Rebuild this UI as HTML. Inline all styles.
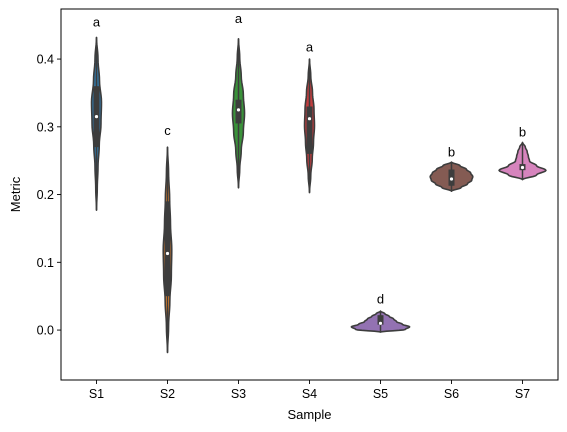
<!DOCTYPE html>
<html><head><meta charset="utf-8"><style>
html,body{margin:0;padding:0;background:#fff;}
svg{display:block;font-family:"Liberation Sans","DejaVu Sans",sans-serif;}
</style></head><body>
<svg id="chart" width="567" height="432" viewBox="0 0 567 432"></svg>
<script>
const categories=["S1","S2","S3","S4","S5","S6","S7"];
const colors=["#3274a1","#e1812c","#3a923a","#c03d3e","#9372b2","#845b53","#d684bd"];
const mins=[0.177,-0.033,0.21,0.203,-0.003,0.205,0.222];
const maxs=[0.432,0.27,0.43,0.40,0.028,0.248,0.277];
const q1s=[0.27,0.05,0.305,0.26,0.008,0.213,0.236];
const medians=[0.315,0.113,0.325,0.312,0.01,0.223,0.24];
const q3s=[0.36,0.19,0.34,0.33,0.022,0.237,0.245];
const maxHalf=[0.07,0.06,0.085,0.07,0.41,0.30,0.33];
const profiles=[
 [0,0.15,0.3,0.55,0.9,1,0.6,0.3,0],
 [0,0.25,0.55,0.9,1,0.7,0.5,0.25,0],
 [0,0.2,0.45,0.8,1,0.8,0.45,0.2,0],
 [0,0.25,0.55,0.8,1,0.9,0.6,0.25,0],
 [0,0.85,1,0.75,0.55,0.45,0.3,0.15,0],
 [0,0.45,0.75,0.95,1,0.9,0.7,0.4,0],
 [0,0.6,1,0.6,0.3,0.25,0.2,0.12,0]
];
const letters=["a","c","a","a","d","b","b"];
const letterVals=[0.448,0.288,0.453,0.411,0.039,0.256,0.286];
const yTicks=[0.0,0.1,0.2,0.3,0.4];
const yTickLabels=["0.0","0.1","0.2","0.3","0.4"];

const L=61,R=558,T=9,B=380;
const yMin=-0.0737,yMax=0.4739;
const y=v=>B-(v-yMin)/(yMax-yMin)*(B-T);
const bandW=(R-L)/categories.length;
const x=i=>L+bandW*(i+0.5);
const NS="http://www.w3.org/2000/svg";
const svg=document.getElementById('chart');
function mk(tag,attrs,parent){const e=document.createElementNS(NS,tag);for(const k in attrs)e.setAttribute(k,attrs[k]);(parent||svg).appendChild(e);return e;}

mk('rect',{x:0,y:0,width:567,height:432,fill:'#fff'});

yTicks.forEach((v,i)=>{
 const t=mk('line',{x1:L-4,x2:L,y1:y(v),y2:y(v),stroke:'#000','stroke-width':0.9});
 
 
 const tx=mk('text',{x:L-7,y:y(v)+4.5,'text-anchor':'end','font-size':12.5,fill:'#000'});
 tx.textContent=yTickLabels[i];
 
 
});
categories.forEach((c,i)=>{
 const t=mk('line',{x1:x(i),x2:x(i),y1:B,y2:B+4,stroke:'#000','stroke-width':0.9});
 
 
 const tx=mk('text',{x:x(i),y:B+18,'text-anchor':'middle','font-size':12.5,fill:'#000'});
 tx.textContent=c;
 
 
});

categories.forEach((c,i)=>{
 const g=mk('g',{});
 
 
 const p=profiles[i],n=p.length,hw=maxHalf[i]*bandW;
 const pts=[];const steps=48;
 const prof=t=>{const f=t*(n-1),k=Math.min(Math.floor(f),n-2),r=f-k;const a=p[k],b=p[k+1];const s=(1-Math.cos(r*Math.PI))/2;return a+(b-a)*s;};
 for(let s=0;s<=steps;s++){const t=s/steps;const v=mins[i]+(maxs[i]-mins[i])*t;pts.push([x(i)+prof(t)*hw,y(v)]);}
 for(let s=steps;s>=0;s--){const t=s/steps;const v=mins[i]+(maxs[i]-mins[i])*t;pts.push([x(i)-prof(t)*hw,y(v)]);}
 const body=mk('polygon',{points:pts.map(q=>q[0].toFixed(2)+','+q[1].toFixed(2)).join(' '),fill:colors[i],stroke:'#3d3d3d','stroke-width':1.6,'stroke-linejoin':'round'},g);
 
 
 const wh=mk('line',{x1:x(i),x2:x(i),y1:y(mins[i]),y2:y(maxs[i]),stroke:'#3d3d3d','stroke-width':1.5},g);
 
 
 const bx=mk('rect',{x:x(i)-3,y:y(q3s[i]),width:6,height:y(q1s[i])-y(q3s[i]),fill:'#3d3d3d'},g);
 
 
 const md=mk('circle',{cx:x(i),cy:y(medians[i]),r:1.6,fill:'#fff'},g);
 
 
 const lt=mk('text',{x:x(i),y:y(letterVals[i]),'text-anchor':'middle','font-size':13,fill:'#000'});
 lt.textContent=letters[i];
 
 
});

const fr=mk('rect',{x:L,y:T,width:R-L,height:B-T,fill:'none',stroke:'#000','stroke-width':1});


const xl=mk('text',{x:(L+R)/2,y:419,'text-anchor':'middle','font-size':13,fill:'#000'});
xl.textContent='Sample';


const yl=mk('text',{x:0,y:0,transform:'translate(20,'+((T+B)/2)+') rotate(-90)','text-anchor':'middle','font-size':13,fill:'#000'});
yl.textContent='Metric';


</script>
</body></html>
